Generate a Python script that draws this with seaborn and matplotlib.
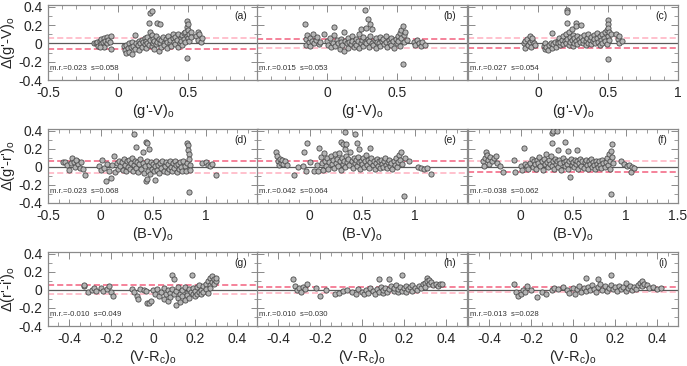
import numpy as np
import pandas as pd
import matplotlib
matplotlib.use("Agg")
import matplotlib.pyplot as plt
from matplotlib.ticker import MultipleLocator
import seaborn as sns

# ---------------- data ----------------
pts_a = [(-0.17,0.01),(-0.16,0.00),(-0.15,0.02),(-0.14,-0.03),(-0.13,0.03),(-0.12,0.05),(-0.12,-0.01),(-0.11,0.02),(-0.10,0.06),(-0.10,-0.04),(-0.09,0.03),(-0.08,0.07),(-0.08,0.00),(-0.07,0.04),(-0.06,0.02),(-0.05,0.08),(-0.05,-0.06),(-0.13,-0.04),
(0.04,-0.03),(0.05,-0.07),(0.06,-0.02),(0.06,-0.11),(0.07,-0.05),(0.08,0.00),(0.08,-0.09),(0.09,-0.04),(0.10,-0.12),(0.10,0.02),(0.11,-0.03),(0.12,0.09),(0.12,-0.06),(0.13,0.01),(0.14,-0.02),(0.15,0.03),(0.15,-0.07),(0.16,0.00),(0.17,0.04),(0.17,-0.04),(0.18,0.02),(0.19,-0.01),(0.19,0.06),(0.20,0.03),(0.20,-0.05),(0.21,0.01),(0.21,0.07),(0.22,-0.02),(0.22,0.22),(0.23,0.33),(0.23,0.13),(0.23,0.04),(0.24,0.35),(0.24,-0.03),(0.24,0.09),(0.25,0.00),(0.25,0.05),(0.26,-0.06),(0.26,0.03),(0.27,0.08),(0.27,-0.01),(0.28,0.22),(0.28,0.02),(0.29,-0.08),(0.29,0.05),(0.30,0.21),(0.30,0.00),(0.31,0.04),(0.31,-0.04),(0.32,0.07),(0.33,0.01),(0.33,-0.02),(0.34,0.05),(0.35,0.02),(0.35,-0.05),(0.36,0.08),(0.37,0.00),(0.37,0.04),(0.38,-0.03),(0.39,0.06),(0.39,0.10),(0.40,0.02),(0.41,-0.01),(0.41,0.07),(0.42,0.04),(0.43,0.10),(0.43,-0.04),(0.44,0.01),(0.45,0.06),(0.45,0.03),(0.46,0.09),(0.46,-0.02),(0.47,0.05),(0.47,0.11),(0.48,0.02),(0.48,0.13),(0.49,0.08),(0.49,0.18),(0.49,0.25),(0.49,-0.16),(0.50,0.21),(0.50,0.15),(0.50,0.06),(0.51,0.10),(0.51,0.03),(0.52,0.12),(0.52,0.07),(0.56,0.08),(0.57,0.12),(0.57,0.04),(0.58,0.10),(0.59,0.02),(0.60,0.06)]

pts_b = [(-0.16,0.21),(-0.15,0.05),(-0.15,-0.02),(-0.14,0.09),(-0.13,0.02),(-0.12,0.06),(-0.12,-0.03),(-0.11,0.03),(-0.10,0.10),(-0.09,0.01),(-0.08,0.04),(-0.07,0.07),(-0.06,-0.01),(-0.05,0.02),
(-0.02,0.10),(0.00,0.03),(0.01,-0.02),(0.02,0.06),(0.03,-0.04),(0.04,0.01),(0.05,0.18),(0.05,0.09),(0.06,-0.03),(0.07,0.04),(0.08,0.00),(0.09,-0.06),(0.10,0.05),(0.10,0.02),(0.11,-0.02),(0.12,0.13),(0.12,-0.08),(0.13,0.03),(0.14,0.00),(0.15,0.06),(0.15,-0.05),(0.16,0.02),(0.17,-0.01),(0.18,0.08),(0.18,0.03),(0.19,-0.04),(0.20,0.01),(0.21,0.05),(0.21,-0.02),(0.22,0.03),(0.23,0.10),(0.23,-0.05),(0.24,0.16),(0.24,0.01),(0.25,0.04),(0.26,-0.03),(0.26,0.07),(0.27,0.36),(0.27,0.02),(0.28,0.00),(0.28,0.17),(0.29,0.27),(0.29,0.05),(0.30,-0.04),(0.30,0.03),(0.31,0.21),(0.31,0.08),(0.32,0.01),(0.32,0.16),(0.33,-0.02),(0.34,0.04),(0.35,0.06),(0.35,-0.05),(0.36,0.02),(0.37,0.00),(0.38,0.07),(0.38,-0.03),(0.39,0.03),(0.40,0.05),(0.41,-0.01),(0.42,0.02),(0.42,0.08),(0.43,-0.04),(0.44,0.04),(0.45,0.01),(0.46,0.06),(0.46,-0.02),(0.47,0.03),(0.48,-0.05),(0.49,0.05),(0.50,0.00),(0.51,0.08),(0.51,0.03),(0.52,0.11),(0.52,-0.03),(0.53,0.15),(0.53,0.06),(0.54,0.19),(0.54,-0.22),(0.55,0.09),(0.55,0.02),(0.56,0.12),(0.57,0.04),(0.62,0.02),(0.63,-0.02),(0.64,0.04),(0.66,0.00),(0.67,-0.03),(0.68,0.02),(0.70,-0.02)]

pts_c = [(-0.10,0.00),(-0.09,-0.05),(-0.09,0.03),(-0.08,0.05),(-0.07,-0.02),(-0.06,0.08),(-0.06,0.02),(-0.05,-0.04),(-0.04,0.04),(-0.03,0.01),(-0.02,-0.02),(-0.04,0.06),
(0.04,-0.03),(0.05,-0.06),(0.05,0.00),(0.06,-0.04),(0.07,-0.07),(0.08,-0.02),(0.09,0.01),(0.10,0.11),(0.10,-0.05),(0.11,-0.01),(0.12,0.02),(0.13,-0.04),(0.14,0.03),(0.14,0.00),(0.15,0.06),(0.16,-0.02),(0.16,0.02),(0.17,0.04),(0.18,0.08),(0.18,-0.01),(0.19,0.03),(0.20,0.10),(0.20,0.00),(0.21,0.37),(0.21,0.34),(0.21,0.22),(0.21,0.05),(0.22,0.13),(0.22,-0.02),(0.23,0.07),(0.23,0.02),(0.24,0.16),(0.24,0.04),(0.25,0.09),(0.25,-0.03),(0.26,0.01),(0.26,0.06),(0.27,0.22),(0.27,0.19),(0.27,0.03),(0.28,0.08),(0.28,-0.01),(0.29,0.05),(0.30,0.02),(0.31,0.20),(0.31,0.07),(0.32,0.00),(0.32,0.04),(0.33,0.09),(0.34,0.03),(0.34,-0.02),(0.35,0.06),(0.36,0.01),(0.36,0.10),(0.37,0.04),(0.38,0.07),(0.38,-0.01),(0.39,0.03),(0.40,0.09),(0.40,0.05),(0.41,0.00),(0.42,0.06),(0.42,0.11),(0.43,0.02),(0.44,0.08),(0.44,-0.02),(0.45,0.04),(0.46,0.10),(0.46,0.01),(0.47,0.06),(0.48,0.12),(0.48,0.03),(0.49,0.15),(0.49,-0.01),(0.50,0.26),(0.50,0.21),(0.50,0.17),(0.50,-0.17),(0.50,0.08),(0.51,0.13),(0.51,0.04),(0.52,0.10),(0.56,0.10),(0.57,0.05),(0.58,0.08),(0.58,0.01),(0.60,0.03)]

pts_d = [(-0.36,0.05),(-0.34,0.05),(-0.32,0.02),(-0.30,-0.03),(-0.28,0.04),(-0.27,0.10),(-0.25,0.05),(-0.24,0.00),(-0.22,0.06),(-0.21,0.03),(-0.20,-0.01),(-0.19,0.05),(-0.17,-0.02),(-0.15,-0.09),(-0.23,0.08),
(-0.01,0.01),(0.00,-0.03),(0.01,0.08),(0.03,-0.01),(0.05,-0.16),(0.06,0.03),(0.08,-0.04),(0.10,-0.12),(0.11,0.02),(0.13,0.12),(0.14,-0.06),(0.16,0.04),(0.17,-0.02),(0.18,0.07),(0.19,0.01),(0.20,0.05),(0.21,-0.03),(0.22,0.09),(0.23,0.02),(0.24,-0.05),(0.25,0.06),(0.26,0.00),(0.27,0.08),(0.28,-0.02),(0.29,0.04),(0.30,0.10),(0.31,-0.04),(0.32,0.36),(0.32,0.02),(0.33,0.07),(0.34,0.22),(0.34,-0.01),(0.35,0.05),(0.36,-0.06),(0.37,0.03),(0.38,0.09),(0.39,-0.02),(0.40,0.16),(0.40,0.04),(0.41,-0.07),(0.42,0.01),(0.43,0.28),(0.43,-0.16),(0.44,0.26),(0.44,-0.13),(0.44,0.06),(0.45,-0.04),(0.46,0.20),(0.46,0.02),(0.47,-0.08),(0.48,0.05),(0.49,-0.02),(0.50,0.03),(0.51,-0.05),(0.52,-0.15),(0.52,0.01),(0.53,0.06),(0.54,-0.03),(0.55,0.02),(0.56,-0.07),(0.57,0.04),(0.58,-0.01),(0.59,0.07),(0.60,-0.04),(0.61,0.01),(0.62,0.05),(0.63,-0.06),(0.64,0.03),(0.65,-0.02),(0.66,0.06),(0.67,0.00),(0.68,-0.05),(0.69,0.04),(0.70,-0.01),(0.71,0.07),(0.72,0.02),(0.73,-0.06),(0.74,0.03),(0.75,-0.02),(0.76,0.05),(0.77,0.00),(0.78,-0.04),(0.79,0.06),(0.80,0.01),(0.81,-0.05),(0.82,0.04),(0.82,0.27),(0.83,0.24),(0.83,0.19),(0.84,0.14),(0.84,-0.28),(0.84,0.09),(0.85,0.02),(0.85,-0.03),(0.97,0.04),(1.00,0.05),(1.02,0.02),(1.04,0.01),(1.06,0.03),(1.10,-0.09)]

pts_e = [(-0.32,0.17),(-0.31,0.12),(-0.30,0.07),(-0.29,0.02),(-0.28,0.09),(-0.27,0.04),(-0.26,0.08),(-0.25,0.03),(-0.23,0.06),(-0.21,0.02),(-0.15,-0.09),(-0.11,0.00),(-0.06,0.01),(-0.05,0.17),(-0.02,0.26),(-0.03,-0.04),(0.00,0.05),(0.04,-0.04),(0.07,0.02),(0.09,0.21),(0.08,-0.05),(0.11,0.11),(0.12,0.04),(0.13,-0.03),(0.14,0.15),(0.15,0.07),(0.16,0.01),(0.17,0.10),(0.18,-0.02),(0.19,0.05),(0.20,0.12),(0.21,0.03),(0.22,0.08),(0.23,-0.01),(0.24,0.14),(0.25,0.04),(0.26,0.09),(0.27,0.01),(0.28,0.15),(0.29,0.06),(0.30,0.28),(0.30,-0.03),(0.31,0.10),(0.32,0.25),(0.32,0.03),(0.33,0.07),(0.34,0.39),(0.34,0.20),(0.34,0.00),(0.35,0.25),(0.35,0.12),(0.36,0.05),(0.37,0.09),(0.38,0.02),(0.39,0.16),(0.40,0.06),(0.41,-0.01),(0.42,0.10),(0.43,0.36),(0.43,0.04),(0.44,0.08),(0.45,0.27),(0.45,0.01),(0.46,0.11),(0.47,0.20),(0.47,0.05),(0.48,-0.02),(0.49,0.07),(0.50,0.03),(0.51,0.10),(0.52,0.00),(0.53,0.06),(0.54,0.13),(0.55,0.02),(0.56,0.08),(0.57,-0.01),(0.58,0.21),(0.58,0.05),(0.59,0.10),(0.60,0.02),(0.61,0.07),(0.62,-0.02),(0.63,0.04),(0.64,0.09),(0.65,0.01),(0.66,0.06),(0.67,-0.01),(0.68,0.08),(0.69,0.03),(0.70,0.00),(0.71,0.06),(0.72,0.10),(0.73,0.02),(0.74,-0.01),(0.75,0.05),(0.76,0.08),(0.77,0.01),(0.78,0.04),(0.79,-0.02),(0.80,0.07),(0.81,0.02),(0.82,0.10),(0.83,0.00),(0.84,0.05),(0.85,0.13),(0.86,0.08),(0.87,0.16),(0.88,0.03),(0.90,-0.32),(0.91,0.10),(0.95,0.06),(1.03,0.00),(1.06,-0.01),(1.09,-0.02),(1.12,-0.01),(1.16,-0.08)]

pts_f = [(-0.36,0.07),(-0.35,0.01),(-0.34,0.10),(-0.33,0.16),(-0.32,0.13),(-0.31,0.08),(-0.30,0.03),(-0.29,0.11),(-0.27,0.06),(-0.25,0.10),(-0.23,0.12),(-0.22,0.04),(-0.20,0.01),(-0.17,-0.06),
(-0.06,0.08),(-0.05,-0.06),(0.00,0.01),(0.01,-0.03),(0.03,0.21),(0.04,0.03),(0.06,0.01),(0.07,-0.02),(0.09,0.04),(0.11,0.09),(0.12,0.00),(0.13,0.06),(0.14,0.03),(0.15,-0.02),(0.16,0.08),(0.17,0.04),(0.18,0.11),(0.19,0.01),(0.20,0.06),(0.21,-0.03),(0.22,0.09),(0.23,0.03),(0.24,0.14),(0.25,0.05),(0.26,0.00),(0.27,0.08),(0.28,0.03),(0.29,0.12),(0.30,0.38),(0.30,0.26),(0.30,0.01),(0.31,0.40),(0.31,0.06),(0.32,-0.02),(0.33,0.09),(0.34,0.03),(0.35,0.40),(0.35,0.06),(0.36,0.19),(0.36,0.00),(0.37,0.08),(0.38,0.04),(0.39,-0.03),(0.40,0.10),(0.41,0.05),(0.42,0.28),(0.42,0.01),(0.43,0.07),(0.44,0.03),(0.45,0.18),(0.45,-0.02),(0.46,0.06),(0.47,-0.11),(0.48,0.09),(0.49,0.02),(0.50,0.05),(0.51,0.00),(0.52,0.08),(0.53,0.03),(0.54,0.19),(0.54,0.06),(0.55,-0.02),(0.56,0.04),(0.57,0.09),(0.58,0.01),(0.59,0.06),(0.60,-0.01),(0.61,0.05),(0.62,0.08),(0.63,0.02),(0.64,-0.02),(0.65,0.06),(0.66,0.03),(0.67,0.09),(0.68,0.00),(0.69,0.05),(0.70,0.02),(0.71,-0.02),(0.72,0.07),(0.73,0.03),(0.74,0.00),(0.75,0.06),(0.76,0.02),(0.77,-0.01),(0.78,0.08),(0.79,0.04),(0.80,0.00),(0.81,0.05),(0.82,0.10),(0.83,0.02),(0.84,0.14),(0.85,0.07),(0.85,-0.02),(0.86,0.18),(0.86,-0.30),(0.87,0.25),(0.87,0.11),(0.88,0.04),(0.96,0.06),(0.99,0.03),(1.01,0.01),(1.03,0.02),(1.05,-0.06),(1.06,0.00),(1.08,-0.01)]

pts_g = [(-0.33,0.04),(-0.33,0.05),(-0.31,-0.02),(-0.29,0.00),(-0.28,0.02),(-0.27,-0.01),(-0.25,0.02),(-0.24,-0.01),(-0.22,0.01),(-0.21,0.04),(-0.20,-0.02),(-0.19,-0.07),
(-0.10,0.01),(-0.09,-0.02),(-0.075,-0.07),(-0.07,-0.10),(-0.06,0.01),(-0.045,0.00),(-0.035,-0.01),(-0.03,-0.15),(-0.02,-0.14),(-0.01,-0.12),
(0.00,0.00),(0.01,-0.04),(0.02,0.01),(0.03,-0.07),(0.04,-0.02),(0.05,-0.10),(0.05,0.02),(0.06,-0.05),(0.07,-0.12),(0.07,0.00),(0.08,-0.03),(0.08,-0.08),(0.09,0.16),(0.09,0.01),(0.10,0.12),(0.10,-0.05),(0.11,-0.17),(0.11,-0.01),(0.12,-0.09),(0.12,0.03),(0.13,-0.04),(0.13,-0.13),(0.14,0.00),(0.14,-0.07),(0.15,0.03),(0.15,-0.11),(0.16,-0.03),(0.16,-0.06),(0.17,0.01),(0.17,-0.09),(0.18,-0.02),(0.185,0.17),(0.19,-0.05),(0.19,0.02),(0.20,-0.07),(0.20,-0.01),(0.21,-0.04),(0.21,0.03),(0.22,-0.02),(0.22,0.05),(0.23,0.00),(0.23,-0.05),(0.24,0.04),(0.24,-0.02),(0.25,0.07),(0.25,0.01),(0.26,0.10),(0.26,-0.03),(0.27,0.13),(0.27,0.05),(0.27,0.02),(0.28,0.15),(0.28,0.09),(0.29,0.12),(0.29,0.06),(0.30,0.10),(0.30,0.13)]

pts_h = [(-0.33,0.12),(-0.32,0.04),(-0.31,0.00),(-0.30,0.02),(-0.29,-0.02),(-0.28,0.03),(-0.27,0.01),(-0.26,0.07),(-0.22,0.02),(-0.20,-0.07),(-0.17,0.00),(-0.13,-0.05),(-0.11,-0.03),(-0.09,-0.01),(-0.07,0.00),(-0.05,-0.02),(-0.03,-0.04),(-0.02,0.01),(0.00,-0.02),(0.01,-0.05),(0.02,0.00),(0.03,-0.03),(0.04,0.02),(0.05,-0.01),(0.06,-0.04),(0.07,0.01),(0.08,0.12),(0.08,-0.02),(0.09,0.03),(0.10,-0.03),(0.10,0.00),(0.11,0.02),(0.12,-0.02),(0.13,0.12),(0.13,0.01),(0.14,0.04),(0.15,-0.01),(0.15,0.02),(0.16,0.05),(0.17,-0.02),(0.17,0.01),(0.18,0.03),(0.19,0.16),(0.19,-0.01),(0.20,0.02),(0.21,0.04),(0.21,-0.02),(0.22,0.01),(0.23,0.03),(0.24,-0.01),(0.24,0.05),(0.25,0.02),(0.26,0.00),(0.27,0.04),(0.28,0.02),(0.29,0.06),(0.30,0.08),(0.30,0.03),(0.31,0.13),(0.31,0.10),(0.32,0.11),(0.32,0.06),(0.33,0.09),(0.34,0.05),(0.35,0.07),(0.36,0.04),(0.37,0.06),(0.38,0.07)]

pts_i = [(-0.28,0.06),(-0.27,-0.02),(-0.26,-0.07),(-0.25,-0.04),(-0.24,0.00),(-0.23,-0.02),(-0.22,0.04),(-0.20,0.00),(-0.17,-0.08),(-0.15,-0.02),(-0.13,-0.04),(-0.10,0.00),(-0.09,0.02),(-0.07,0.01),(-0.05,0.03),(-0.03,0.00),(-0.02,-0.03),(0.00,0.02),(0.01,-0.04),(0.02,0.01),(0.03,0.04),(0.04,-0.02),(0.05,0.02),(0.06,0.13),(0.06,-0.01),(0.07,0.03),(0.08,0.00),(0.09,0.05),(0.10,0.01),(0.11,-0.02),(0.12,0.12),(0.12,0.03),(0.13,0.06),(0.14,0.00),(0.15,0.04),(0.16,-0.01),(0.17,0.02),(0.18,0.17),(0.18,0.05),(0.19,0.01),(0.20,0.03),(0.21,-0.01),(0.22,0.04),(0.23,0.01),(0.24,0.03),(0.25,0.08),(0.25,-0.01),(0.26,0.02),(0.27,0.04),(0.28,0.00),(0.29,0.03),(0.30,0.01),(0.31,0.05),(0.32,0.08),(0.33,0.10),(0.33,0.04),(0.34,0.07),(0.35,0.05),(0.36,0.02),(0.38,0.03),(0.40,0.01),(0.42,0.02)]

panel_tags = ["(a)", "(b)", "(c)", "(d)", "(e)", "(f)", "(g)", "(h)", "(i)"]
mean_resid = [0.023, 0.015, 0.027, 0.023, 0.042, 0.038, -0.010, 0.010, 0.013]
sigma = [0.058, 0.053, 0.054, 0.068, 0.064, 0.062, 0.049, 0.030, 0.028]
stat_text = ["m.r.=0.023  s=0.058", "m.r.=0.015  s=0.053", "m.r.=0.027  s=0.054",
             "m.r.=0.023  s=0.068", "m.r.=0.042  s=0.064", "m.r.=0.038  s=0.062",
             "m.r.=-0.010  s=0.049", "m.r.=0.010  s=0.030", "m.r.=0.013  s=0.028"]
row_xlabels = [r"(g'-V)$_{\rm o}$", r"(B-V)$_{\rm o}$", r"(V-R$_{\rm c}$)$_{\rm o}$"]
row_ylabels = [r"Δ(g'-V)$_{\rm o}$", r"Δ(g'-r')$_{\rm o}$", r"Δ(r'-i')$_{\rm o}$"]
row_xlims = [(-0.5, 1.0), (-0.5, 1.5), (-0.5, 0.5)]
row_xmajor = [0.5, 0.5, 0.2]
row_xminor = [0.1, 0.1, 0.05]
yticks = [-0.4, -0.2, 0, 0.2, 0.4]
ytick_labels = ["-0.4", "-0.2", "0", "0.2", "0.4"]

all_pts = [pts_a, pts_b, pts_c, pts_d, pts_e, pts_f, pts_g, pts_h, pts_i]

# ---------------- style ----------------
sns.set_style("ticks")
plt.rcParams["font.family"] = ["Liberation Sans", "DejaVu Sans"]
plt.rcParams["mathtext.fontset"] = "custom"
plt.rcParams["mathtext.rm"] = "Liberation Sans"
plt.rcParams["mathtext.it"] = "Liberation Sans:italic"
plt.rcParams["axes.unicode_minus"] = False

W, H = 687, 366
fig = plt.figure(figsize=(W / 100, H / 100), dpi=100)

col_left = [48, 257, 468]
col_w = 210
row_top = [5, 129, 252]
row_h = [75, 74, 74]

spine_c = "#8a8a8a"

def fmt(v):
    s = f"{v:g}"
    return "0" if s in ("0", "-0") else s

for idx, pts in enumerate(all_pts):
    r, c = divmod(idx, 3)
    ax = fig.add_axes([col_left[c] / W, 1 - (row_top[r] + row_h[r]) / H,
                       col_w / W, row_h[r] / H])
    df = pd.DataFrame(pts, columns=["x", "y"])
    s_val = sigma[idx]
    ax.axhline(0, color="#5a5a5a", lw=0.9, zorder=1)
    dark, light = "#f2607e", "#ffb0c0"
    up_c, lo_c = (light, dark) if idx in (0, 2, 5) else (dark, light)
    ax.axhline(s_val, color=up_c, lw=1.1, ls=(0, (4, 2)), zorder=1)
    ax.axhline(-s_val, color=lo_c, lw=1.1, ls=(0, (4, 2)), zorder=1)
    sns.scatterplot(data=df, x="x", y="y", ax=ax, s=14, color="#b4b4b4",
                    edgecolor="#4a4a4a", linewidth=0.6, zorder=3, legend=False)
    x0, x1 = row_xlims[r]
    ax.set_xlim(x0, x1)
    ax.set_ylim(-0.4, 0.42)

    # x ticks: multiples of the major step inside the limits
    step = row_xmajor[r]
    k0 = int(np.ceil(x0 / step - 1e-9))
    k1 = int(np.floor(x1 / step + 1e-9))
    ticks = [round(k * step, 3) for k in range(k0, k1 + 1)]
    keep = []
    for t in ticks:
        if abs(t - x0) < 1e-9 and c != 0:
            continue
        if abs(t - x1) < 1e-9 and c != 2:
            continue
        keep.append(t)
    ax.set_xticks(keep)
    ax.set_xticklabels([fmt(t) for t in keep])
    ax.xaxis.set_minor_locator(MultipleLocator(row_xminor[r]))
    ax.set_yticks(yticks)
    ax.yaxis.set_minor_locator(MultipleLocator(0.1))
    if c == 0:
        ax.set_yticklabels(ytick_labels)
        ax.set_ylabel(row_ylabels[r], fontsize=10.5, labelpad=1)
    else:
        ax.set_yticklabels([])
        ax.set_ylabel("")
    ax.set_xlabel(row_xlabels[r], fontsize=10.5, labelpad=2)

    ax.tick_params(axis="both", which="both", direction="in", top=True, right=True,
                   color=spine_c, labelsize=10, pad=4)
    ax.tick_params(which="major", length=5, width=0.7)
    ax.tick_params(which="minor", length=3, width=0.6)
    for sp in ax.spines.values():
        sp.set_color(spine_c)
        sp.set_linewidth(0.9)

    ax.text(0.01, -0.27, stat_text[idx], transform=ax.get_yaxis_transform(),
            fontsize=5.6, color="#333333", va="center", ha="left")
    ax.text(0.95, 0.3, panel_tags[idx], transform=ax.get_yaxis_transform(),
            fontsize=7.5, color="#222222", va="center", ha="right")

fig.savefig("out.png", dpi=100)
